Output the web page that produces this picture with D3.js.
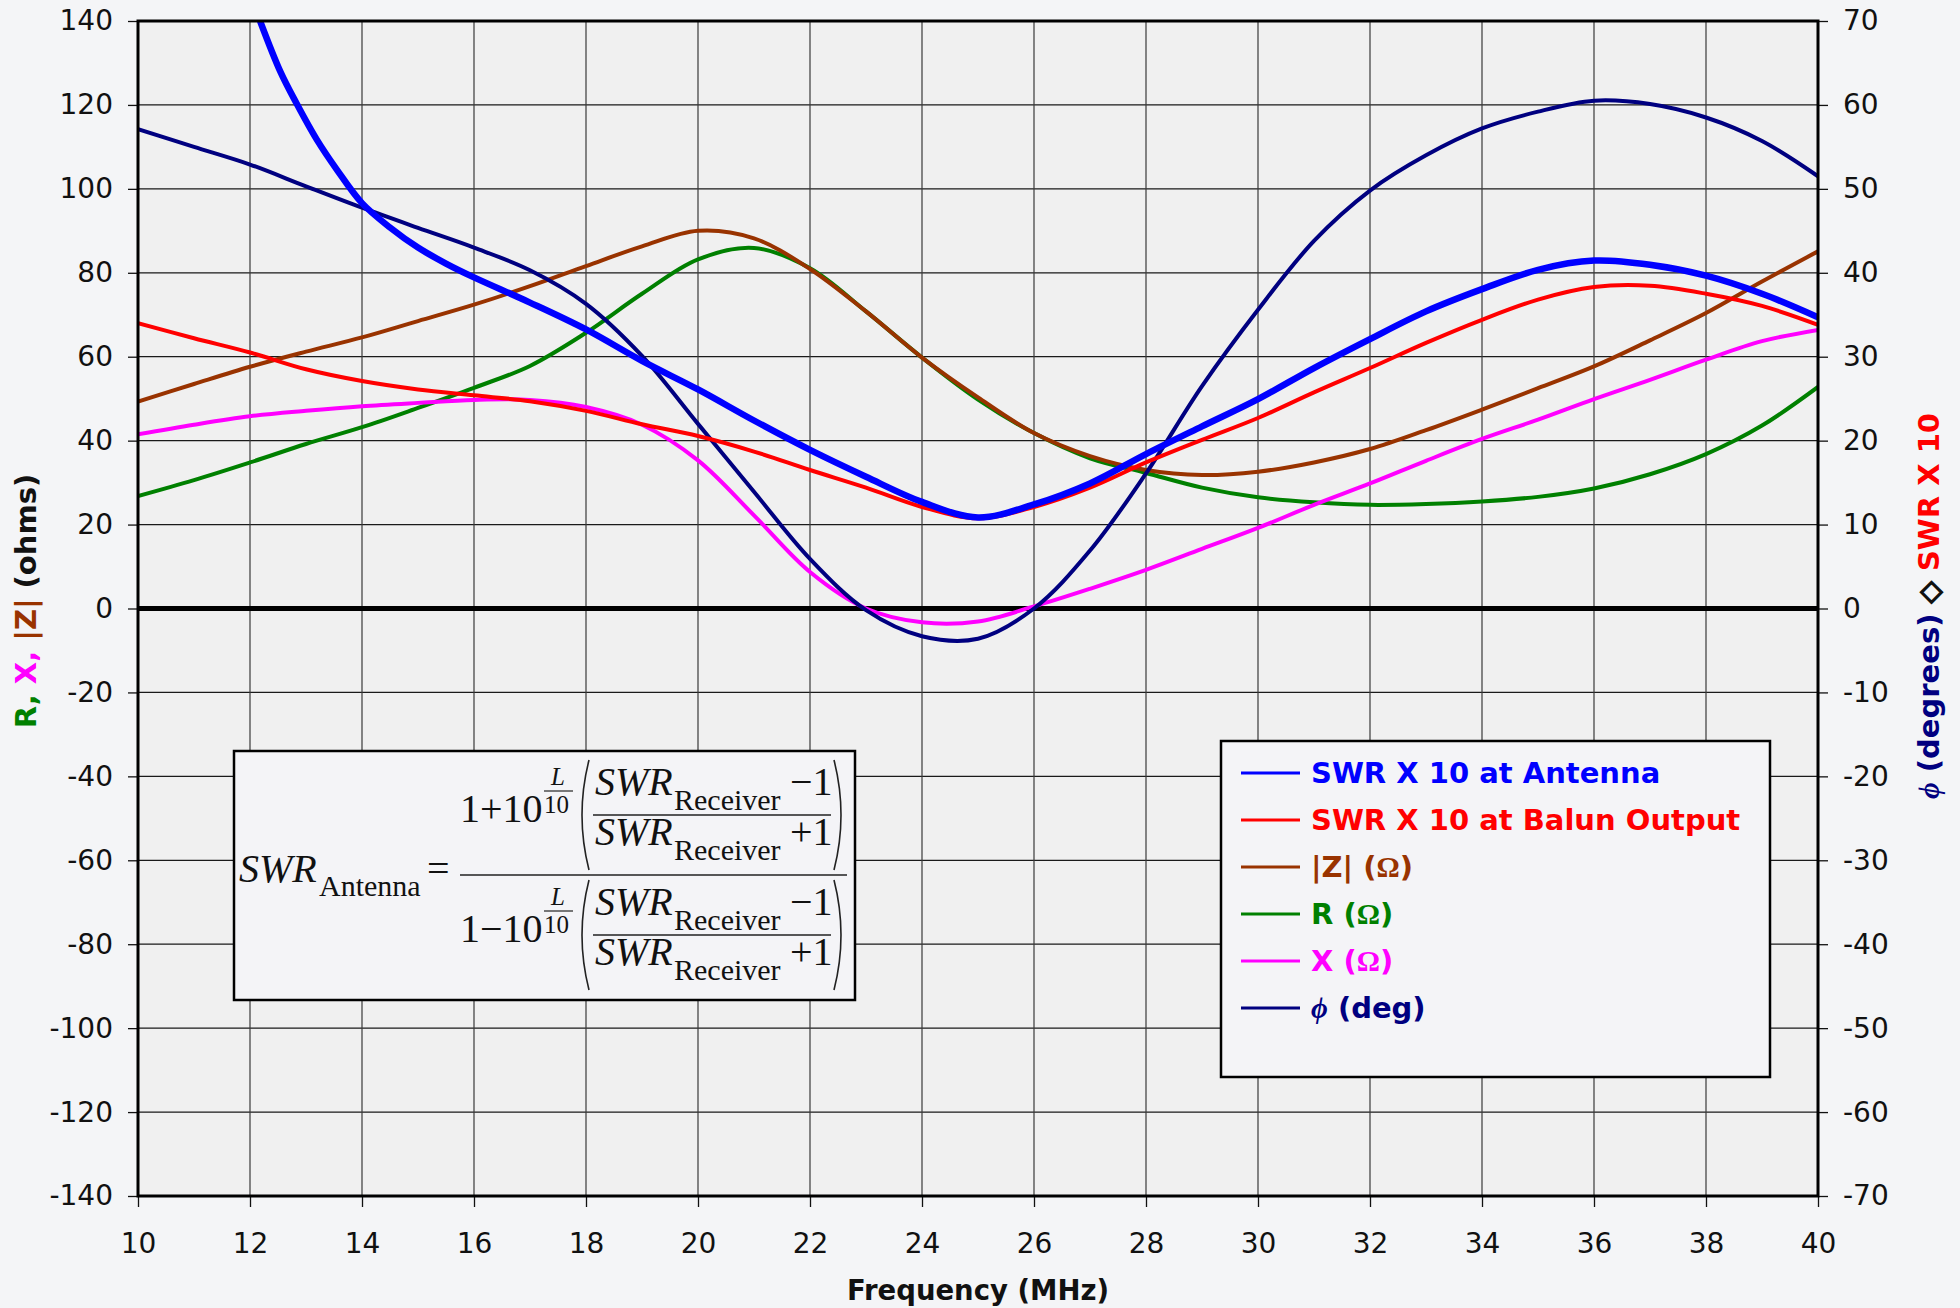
<!DOCTYPE html>
<html lang="en">
<head>
<meta charset="UTF-8">
<title>SWR, R, X, |Z| vs Frequency</title>
<script src="https://d3js.org/d3.v7.min.js"></script>
<style>
    body { margin: 0; background: #f4f5f7; }
    svg { display: block; }
    .tick text { font-family: "DejaVu Sans", Verdana, sans-serif; font-size: 28px; fill: #111; }
    .bold { font-family: "DejaVu Sans", Verdana, sans-serif; font-weight: bold; }
    .serif { font-family: "Liberation Serif", "Times New Roman", serif; }
</style>
</head>
<body>
<svg width="1960" height="1308"></svg>
<script>
// frequency grid (MHz) shared by most series
const freqMHz = [10, 11, 12, 13, 14, 15, 16, 17, 18, 19, 20, 21, 22, 23, 24, 25,
                 26, 27, 28, 29, 30, 31, 32, 33, 34, 35, 36, 37, 38, 39, 40];

// left axis series (ohms)
const magZ = [49.3, 53.5, 57.6, 61.2, 64.6, 68.5, 72.4, 76.8, 81.6, 86.3, 90.0, 88.2, 80.9, 70.8, 59.8, 50.3,
              41.8, 36.3, 33.0, 31.8, 32.6, 34.8, 38.0, 42.5, 47.4, 52.5, 57.7, 63.9, 70.4, 77.9, 85.1];
const resR = [26.8, 30.6, 34.8, 39.2, 43.2, 47.8, 52.6, 57.8, 65.7, 75.0, 83.2, 85.9, 81.1, 70.8, 59.8, 49.8,
              41.8, 35.8, 32.3, 28.8, 26.5, 25.3, 24.7, 24.9, 25.5, 26.6, 28.6, 32.0, 36.8, 43.6, 52.8];
const reacX = [41.5, 43.8, 45.8, 47.1, 48.2, 49.0, 49.7, 49.7, 48.0, 43.8, 35.3, 22.2, 8.7, 0.0, -3.3, -3.1,
               0.5, 4.7, 9.2, 14.2, 19.2, 24.7, 29.8, 35.2, 40.4, 45.0, 49.9, 54.5, 59.3, 63.7, 66.4];

// right axis series (SWR x 10, degrees)
const swrBalun = [34.0, 32.2, 30.5, 28.5, 27.1, 26.1, 25.4, 24.7, 23.55, 21.95, 20.55, 18.7, 16.5, 14.4, 12.1, 10.75,
                  12.1, 14.4, 17.4, 20.1, 22.7, 25.75, 28.65, 31.65, 34.4, 36.8, 38.3, 38.45, 37.5, 36.05, 33.8];
const phaseDeg = [57.1, 55.0, 52.9, 50.3, 47.75, 45.35, 43.0, 40.3, 36.3, 30.1, 22.0, 13.9, 5.9, -0.2, -3.3, -3.6,
                  0.0, 6.9, 16.1, 26.5, 35.6, 43.8, 49.8, 54.0, 57.2, 59.2, 60.5, 60.1, 58.5, 55.7, 51.5];
// SWR at antenna leaves the top of the chart below 12.2 MHz
const swrAntFreq = [12.18, 12.54, 12.83, 13.19, 13.55, 14, 14.5, 15, 15.5, 16, 17, 18, 19, 20, 21, 22, 23, 24, 25,
                    26, 27, 28, 29, 30, 31, 32, 33, 34, 35, 36, 37, 38, 39, 40];
const swrAnt = [70.0, 64.0, 60.2, 55.9, 52.3, 48.3, 45.4, 43.0, 41.1, 39.45, 36.45, 33.25, 29.5, 26.1, 22.4, 18.9, 15.7, 12.7, 10.85,
                12.4, 14.9, 18.4, 21.7, 24.95, 28.65, 32.1, 35.4, 38.05, 40.35, 41.45, 40.95, 39.65, 37.5, 34.7];

const xTicks = [10, 12, 14, 16, 18, 20, 22, 24, 26, 28, 30, 32, 34, 36, 38, 40];
const leftTicks = [-140, -120, -100, -80, -60, -40, -20, 0, 20, 40, 60, 80, 100, 120, 140];
const rightTicks = [-70, -60, -50, -40, -30, -20, -10, 0, 10, 20, 30, 40, 50, 60, 70];

const plotL = 138, plotR = 1818, plotT = 21, plotB = 1196;

const svg = d3.select("svg");

const x = d3.scaleLinear().domain([10, 40]).range([plotL, plotR]);
const yL = d3.scaleLinear().domain([-140, 140]).range([plotB, plotT]);
const yR = d3.scaleLinear().domain([-70, 70]).range([plotB, plotT]);

// plot area
svg.append("rect")
    .attr("x", plotL).attr("y", plotT)
    .attr("width", plotR - plotL).attr("height", plotB - plotT)
    .attr("fill", "#f0f0f0");

svg.append("defs").append("clipPath").attr("id", "plot")
    .append("rect")
    .attr("x", plotL).attr("y", plotT)
    .attr("width", plotR - plotL).attr("height", plotB - plotT);

// grid
svg.append("g").selectAll("line").data(leftTicks).join("line")
    .attr("x1", plotL).attr("x2", plotR)
    .attr("y1", d => yL(d)).attr("y2", d => yL(d))
    .attr("stroke", "#1a1a1a").attr("stroke-width", 1.3);
svg.append("g").selectAll("line").data(xTicks).join("line")
    .attr("x1", d => x(d)).attr("x2", d => x(d))
    .attr("y1", plotT).attr("y2", plotB)
    .attr("stroke", "#3a3a3a").attr("stroke-width", 1.2);

// zero line
svg.append("line")
    .attr("x1", plotL).attr("x2", plotR)
    .attr("y1", yL(0)).attr("y2", yL(0))
    .attr("stroke", "#000").attr("stroke-width", 5);

// axes
const gL = svg.append("g").attr("transform", `translate(${plotL},0)`)
    .call(d3.axisLeft(yL).tickValues(leftTicks).tickFormat(d => String(d)).tickSize(10).tickPadding(15));
const gR = svg.append("g").attr("transform", `translate(${plotR},0)`)
    .call(d3.axisRight(yR).tickValues(rightTicks).tickFormat(d => String(d)).tickSize(10).tickPadding(15));
const gB = svg.append("g").attr("transform", `translate(0,${plotB})`)
    .call(d3.axisBottom(x).tickValues(xTicks).tickFormat(d => String(d)).tickSize(11).tickPadding(26));
[gL, gR, gB].forEach(g => {
    g.select(".domain").remove();
    g.selectAll(".tick line").attr("stroke", "#111").attr("stroke-width", 1.3);
});

// curves
const curve = d3.curveCatmullRom.alpha(0.5);
const lineL = d3.line().x(d => x(d[0])).y(d => yL(d[1])).curve(curve);
const lineR = d3.line().x(d => x(d[0])).y(d => yR(d[1])).curve(curve);
const zip = (xs, ys) => xs.map((v, i) => [v, ys[i]]);

const series = [
    { data: zip(freqMHz, resR), line: lineL, color: "#008000", w: 4 },
    { data: zip(freqMHz, magZ), line: lineL, color: "#993300", w: 4 },
    { data: zip(freqMHz, reacX), line: lineL, color: "#ff00ff", w: 4 },
    { data: zip(freqMHz, phaseDeg), line: lineR, color: "#000080", w: 4 },
    { data: zip(freqMHz, swrBalun), line: lineR, color: "#ff0000", w: 4 },
    { data: zip(swrAntFreq, swrAnt), line: lineR, color: "#0000ff", w: 6.5 }
];
const gC = svg.append("g").attr("clip-path", "url(#plot)");
series.forEach(s => {
    gC.append("path")
        .datum(s.data)
        .attr("fill", "none")
        .attr("stroke", s.color)
        .attr("stroke-width", s.w)
        .attr("stroke-linejoin", "round")
        .attr("d", s.line);
});

// plot border
svg.append("rect")
    .attr("x", plotL).attr("y", plotT)
    .attr("width", plotR - plotL).attr("height", plotB - plotT)
    .attr("fill", "none").attr("stroke", "#000").attr("stroke-width", 3);

// legend
const legendItems = [
    { label: "SWR X 10 at Antenna", color: "#0000ff" },
    { label: "SWR X 10 at Balun Output", color: "#ff0000" },
    { label: "|Z| (Ω)", color: "#993300" },
    { label: "R (Ω)", color: "#008000" },
    { label: "X (Ω)", color: "#ff00ff" },
    { label: "ϕ (deg)", color: "#000080" }
];
const legend = svg.append("g").attr("transform", "translate(1221,741)");
legend.append("rect")
    .attr("width", 549).attr("height", 336)
    .attr("fill", "#f4f4f7").attr("stroke", "#000").attr("stroke-width", 2.5);
legendItems.forEach((it, i) => {
    const row = legend.append("g").attr("transform", `translate(0,${32 + i * 47})`);
    row.append("line").attr("x1", 20).attr("x2", 79)
        .attr("stroke", it.color).attr("stroke-width", 3);
    const t = row.append("text").attr("class", "bold").attr("x", 90).attr("y", 10)
        .attr("font-size", 29).attr("fill", it.color);
    // Omega and phi drawn in serif / italic like the original
    it.label.split(/(Ω|ϕ)/).filter(p => p).forEach(p => {
        const ts = t.append("tspan").text(p);
        if (p === "Ω") ts.attr("class", "serif").attr("font-weight", "bold");
        if (p === "ϕ") ts.attr("class", "serif").attr("font-style", "italic");
    });
});

// formula box
const fb = svg.append("g").attr("transform", "translate(234,751)").attr("class", "serif");
fb.append("rect").attr("width", 621).attr("height", 249)
    .attr("fill", "#f4f4f7").attr("stroke", "#000").attr("stroke-width", 2.5);
const ftext = (tx, ty, s, size, italic) => fb.append("text")
    .attr("x", tx).attr("y", ty).attr("font-size", size)
    .attr("font-style", italic ? "italic" : "normal").attr("fill", "#111").text(s);
const fline = (x1, x2, yy, w) => fb.append("line")
    .attr("x1", x1).attr("x2", x2).attr("y1", yy).attr("y2", yy)
    .attr("stroke", "#222").attr("stroke-width", w);

ftext(5, 131, "SWR", 40, true);
ftext(85, 145, "Antenna", 30, false);
ftext(193, 131, "=", 40, false);
fline(226, 613, 124, 1.6);

[{ base: 71, sign: "1+10" }, { base: 191, sign: "1\u221210" }].forEach(r => {
    const b = r.base;
    ftext(226, b, r.sign, 40, false);
    ftext(317, b - 37, "L", 25, true);
    fline(310, 339, b - 31, 1.2);
    ftext(310, b - 9, "10", 25, false);
    fb.append("path")
        .attr("d", `M355,${b - 62} Q341,${b - 7} 355,${b + 48}`)
        .attr("fill", "none").attr("stroke", "#222").attr("stroke-width", 1.6);
    fb.append("path")
        .attr("d", `M600,${b - 62} Q614,${b - 7} 600,${b + 48}`)
        .attr("fill", "none").attr("stroke", "#222").attr("stroke-width", 1.6);
    ftext(361, b - 27, "SWR", 40, true);
    ftext(440, b - 12, "Receiver", 30, false);
    ftext(556, b - 27, "\u22121", 40, false);
    fline(359, 597, b - 7, 1.4);
    ftext(361, b + 23, "SWR", 40, true);
    ftext(440, b + 38, "Receiver", 30, false);
    ftext(556, b + 23, "+1", 40, false);
});

// axis titles
svg.append("text").attr("class", "bold")
    .attr("x", (plotL + plotR) / 2).attr("y", 1300)
    .attr("text-anchor", "middle").attr("font-size", 27.5).attr("fill", "#111")
    .text("Frequency (MHz)");

const tl = svg.append("text").attr("class", "bold")
    .attr("transform", "translate(36,601) rotate(-90)")
    .attr("text-anchor", "middle").attr("font-size", 29);
tl.append("tspan").attr("fill", "#008000").text("R, ");
tl.append("tspan").attr("fill", "#ff00ff").text("X, ");
tl.append("tspan").attr("fill", "#993300").text("|Z| ");
tl.append("tspan").attr("fill", "#111").text("(ohms)");

const tr = svg.append("text").attr("class", "bold")
    .attr("transform", "translate(1939,606) rotate(-90)")
    .attr("text-anchor", "middle").attr("font-size", 29);
tr.append("tspan").attr("fill", "#000080").attr("class", "serif").attr("font-style", "italic").text("ϕ");
tr.append("tspan").attr("fill", "#000080").text(" (degrees) ");
tr.append("tspan").attr("fill", "#111").attr("stroke", "#111").attr("stroke-width", 1.5).text(" \u25C7 ");
tr.append("tspan").attr("fill", "#ff0000").text(" SWR X 10");
</script>
</body>
</html>
